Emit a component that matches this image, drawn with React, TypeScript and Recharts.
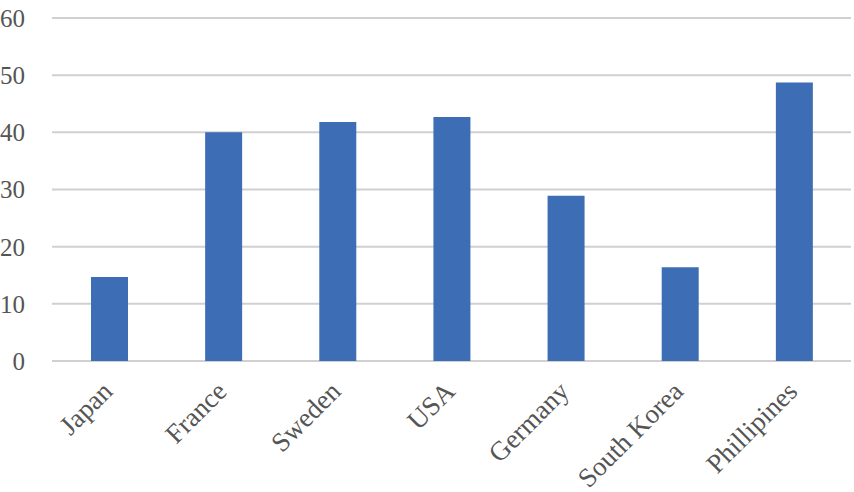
import { BarChart, Bar, XAxis, YAxis, CartesianGrid } from "recharts";

const CATEGORIES = ["Japan", "France", "Sweden", "USA", "Germany", "South Korea", "Phillipines"];
const VALUES = [14.7, 40, 41.8, 42.7, 28.9, 16.4, 48.7];
const Y_TICKS = [0, 10, 20, 30, 40, 50, 60];

const data = CATEGORIES.map((name, i) => ({ name, value: VALUES[i] }));

const FONT = "'Liberation Serif', 'Times New Roman', serif";
const TEXT_COLOR = "#555555";

function CategoryTick({ x, y, payload }: any) {
  const ax = x + 5;
  const ay = y + 32;
  return (
    <text
      x={ax}
      y={ay}
      transform={`rotate(-45, ${ax}, ${ay})`}
      textAnchor="end"
      fill={TEXT_COLOR}
      fontSize={27}
      fontFamily={FONT}
    >
      {payload.value}
    </text>
  );
}

export default function App() {
  return (
    <div style={{ position: "absolute", left: 0, top: 0, background: "#fff" }}>
      <BarChart
        width={854}
        height={492}
        data={data}
        margin={{ top: 18, right: 3, left: 0, bottom: 0 }}
        barSize={37}
      >
        <CartesianGrid vertical={false} stroke="#d0d0d0" strokeWidth={2} />
        <XAxis
          dataKey="name"
          height={131}
          axisLine={false}
          tickLine={false}
          tickSize={0}
          tickMargin={0}
          interval={0}
          tick={<CategoryTick />}
        />
        <YAxis
          width={52}
          domain={[0, 60]}
          ticks={Y_TICKS}
          axisLine={false}
          tickLine={false}
          tickSize={0}
          tickMargin={27}
          tick={{ fill: TEXT_COLOR, fontSize: 25, fontFamily: FONT }}
        />
        <Bar dataKey="value" fill="#3d6db5" isAnimationActive={false} />
      </BarChart>
    </div>
  );
}
